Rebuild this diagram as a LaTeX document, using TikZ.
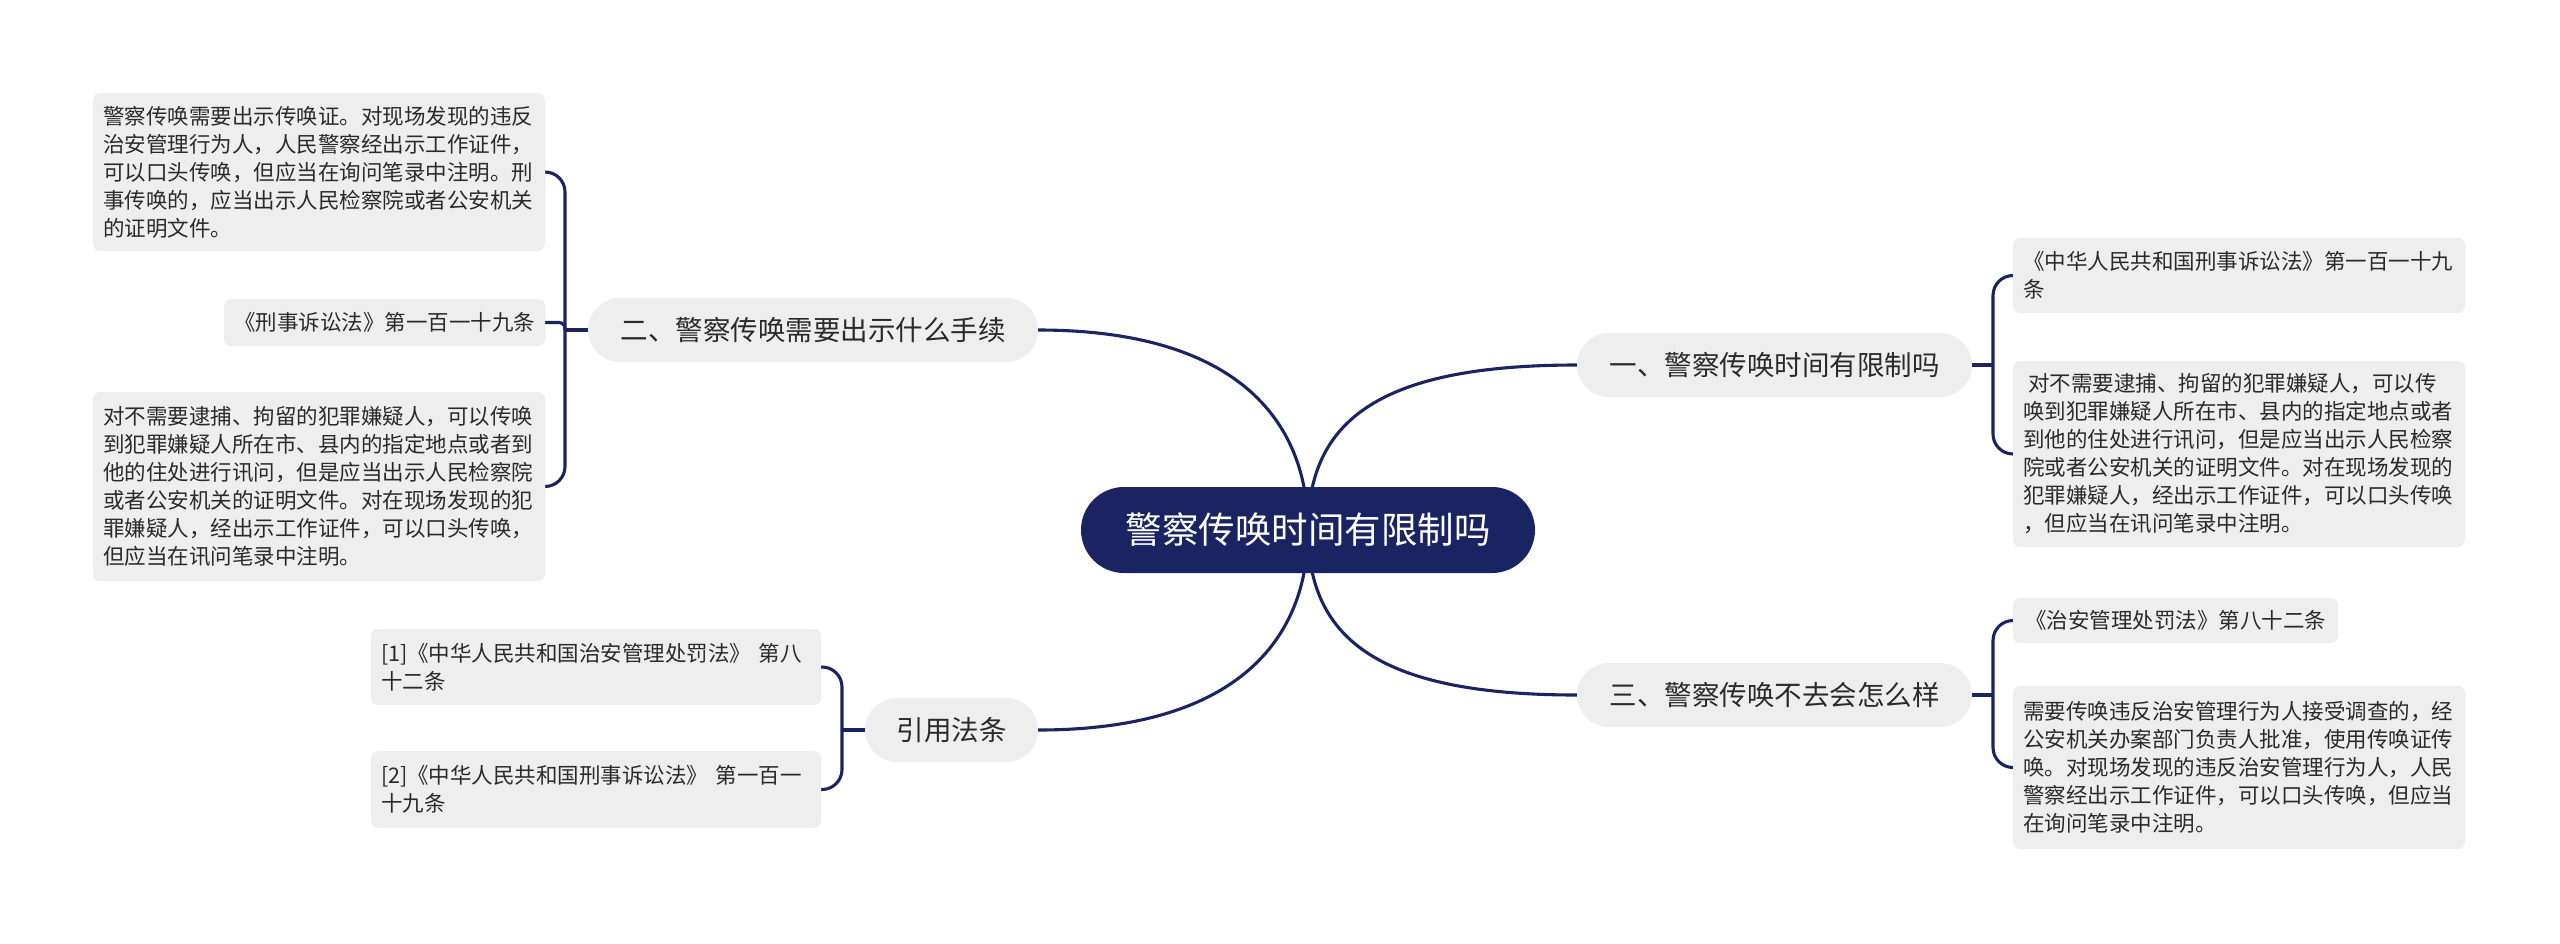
\documentclass[tikz,border=0pt]{standalone}
\usepackage{fontspec}
\newfontfamily\cjk{Noto Sans CJK SC}
\usetikzlibrary{backgrounds}
\definecolor{navy}{HTML}{1B2463}
\definecolor{boxgray}{HTML}{EEEEEE}
\definecolor{txt}{HTML}{2A2A2A}
\tikzset{
  conn/.style={draw=navy, line width=3.1pt},
  leaf/.style={rectangle, rounded corners=7pt, fill=boxgray, text=txt,
    font=\cjk\fontsize{21.5}{28}\selectfont, align=left, inner xsep=10pt, inner ysep=0pt},
  wideleaf/.style={leaf, text width=432pt},
  branch/.style={rectangle, rounded corners=32pt, fill=boxgray, text=txt,
    font=\cjk\fontsize{27.5}{32}\selectfont, minimum height=64pt, inner xsep=0pt},
  rootnode/.style={rectangle, rounded corners=43pt, fill=navy, text=white,
    font=\cjk\fontsize{36.5}{40}\selectfont, minimum height=86pt, minimum width=454pt},
}
\begin{document}
\begin{tikzpicture}[x=1pt,y=1pt]
\useasboundingbox (0,0) rectangle (2560,-943);
% root
\node[rootnode] (c) at (1308,-530) {警察传唤时间有限制吗};
% branches
\node[branch, minimum width=395pt] (b1) at (1774.5,-365) {一、警察传唤时间有限制吗};
\node[branch, minimum width=395pt] (b3) at (1774.5,-695) {三、警察传唤不去会怎么样};
\node[branch, minimum width=450pt] (b2) at (813,-330) {二、警察传唤需要出示什么手续};
\node[branch, minimum width=173pt] (b4) at (951.5,-730) {引用法条};
% right leaves
\node[wideleaf, minimum height=75pt] (r1a) at (2239,-275.5) {《中华人民共和国刑事诉讼法》第一百一十九\\条};
\node[wideleaf, minimum height=186pt] (r1b) at (2239,-454) {\hspace*{5pt}对不需要逮捕、拘留的犯罪嫌疑人，可以传\\唤到犯罪嫌疑人所在市、县内的指定地点或者\\到他的住处进行讯问，但是应当出示人民检察\\院或者公安机关的证明文件。对在现场发现的\\犯罪嫌疑人，经出示工作证件，可以口头传唤\\，但应当在讯问笔录中注明。};
\node[leaf, minimum height=45pt, minimum width=325pt] (r3a) at (2175.5,-620.5) {《治安管理处罚法》第八十二条};
\node[wideleaf, minimum height=163pt] (r3b) at (2239,-767.5) {需要传唤违反治安管理行为人接受调查的，经\\公安机关办案部门负责人批准，使用传唤证传\\唤。对现场发现的违反治安管理行为人，人民\\警察经出示工作证件，可以口头传唤，但应当\\在询问笔录中注明。};
% left leaves
\node[wideleaf, minimum height=158pt] (l2a) at (319,-172) {警察传唤需要出示传唤证。对现场发现的违反\\治安管理行为人，人民警察经出示工作证件，\\可以口头传唤，但应当在询问笔录中注明。刑\\事传唤的，应当出示人民检察院或者公安机关\\的证明文件。};
\node[leaf, minimum height=47pt, minimum width=321pt] (l2b) at (384.5,-322.5) {《刑事诉讼法》第一百一十九条};
\node[wideleaf, minimum height=189pt] (l2c) at (319,-486.5) {对不需要逮捕、拘留的犯罪嫌疑人，可以传唤\\到犯罪嫌疑人所在市、县内的指定地点或者到\\他的住处进行讯问，但是应当出示人民检察院\\或者公安机关的证明文件。对在现场发现的犯\\罪嫌疑人，经出示工作证件，可以口头传唤，\\但应当在讯问笔录中注明。};
\node[leaf, text width=430pt, minimum height=76pt] (f1) at (596,-667) {[1]《中华人民共和国治安管理处罚法》 第八\\十二条};
\node[leaf, text width=430pt, minimum height=77pt] (f2) at (596,-789.5) {[2]《中华人民共和国刑事诉讼法》 第一百一\\十九条};
% junctions
\coordinate (j1) at (1993,-365);
\coordinate (j3) at (1993,-695);
\coordinate (j2) at (565,-330);
\coordinate (j4) at (842,-730);
\begin{pgfonlayer}{background}
  % root to branches
  \draw[conn] (c.center) .. controls (1308,-420) and (1380,-365) .. (b1.west);
  \draw[conn] (c.center) .. controls (1308,-640) and (1380,-695) .. (b3.west);
  \draw[conn] (c.center) .. controls (1308,-420) and (1236,-330) .. (b2.east);
  \draw[conn] (c.center) .. controls (1308,-640) and (1236,-730) .. (b4.east);
  % branch stubs
  \draw[conn] (b1.east) -- (j1);
  \draw[conn] (b3.east) -- (j3);
  \draw[conn] (b2.west) -- (j2);
  \draw[conn] (b4.west) -- (j4);
  % brackets
  \draw[conn, rounded corners=20pt] (j1) |- (r1a.west);
  \draw[conn, rounded corners=20pt] (j1) |- (r1b.west);
  \draw[conn, rounded corners=20pt] (j3) |- (r3a.west);
  \draw[conn, rounded corners=20pt] (j3) |- (r3b.west);
  \draw[conn, rounded corners=20pt] (j2) |- (l2a.east);
  \draw[conn, rounded corners=6pt] (j2) |- (l2b.east);
  \draw[conn, rounded corners=20pt] (j2) |- (l2c.east);
  \draw[conn, rounded corners=20pt] (j4) |- (f1.east);
  \draw[conn, rounded corners=20pt] (j4) |- (f2.east);
\end{pgfonlayer}
\end{tikzpicture}
\end{document}
